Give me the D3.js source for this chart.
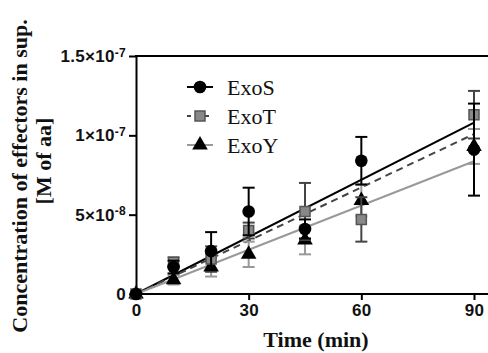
<!DOCTYPE html>
<html>
<head>
<meta charset="utf-8">
<script src="https://cdn.jsdelivr.net/npm/d3@7"></script>
<style>
  body { margin: 0; background: #fff; }
  .tick-label { font-family: 'Liberation Sans', Arial, sans-serif; font-weight: bold; font-size: 17px; letter-spacing: 0.3px; fill: #111; }
  .axis-title { font-family: 'Liberation Serif', 'Times New Roman', serif; font-weight: bold; font-size: 22px; fill: #111; }
  .legend-label { font-family: 'Liberation Serif', 'Times New Roman', serif; font-size: 22px; fill: #111; }
</style>
</head>
<body>
<svg id="chart"></svg>
<script>
// time points (min)
var times = [0, 10, 20, 30, 45, 60, 90];

// mean concentration (M of aa) and SEM for each effector
var exoS = [0, 1.7e-8, 2.7e-8, 5.2e-8, 4.1e-8, 8.4e-8, 9.1e-8];
var exoSErr = [0, 0.4e-8, 1.2e-8, 1.5e-8, 0.6e-8, 1.5e-8, 2.9e-8];
var exoT = [0, 2.0e-8, 2.2e-8, 4.0e-8, 5.2e-8, 4.7e-8, 11.3e-8];
var exoTErr = [0, 0.3e-8, 0.8e-8, 0.5e-8, 1.8e-8, 1.4e-8, 1.5e-8];
var exoY = [0, 0.9e-8, 1.7e-8, 2.5e-8, 3.4e-8, 5.9e-8, 9.3e-8];
var exoYErr = [0, 0.3e-8, 0.6e-8, 0.8e-8, 0.9e-8, 1.0e-8, 1.1e-8];

// fitted slopes (M per min) of the linear regressions, through origin
var seriesNames = ["ExoS", "ExoT", "ExoY"];
var fitSlopes = [1.2e-9, 1.12e-9, 0.93e-9];

// axis ticks
var xTicks = [0, 30, 60, 90];
var yTicks = [0, 5e-8, 1e-7, 1.5e-7];
var yTickLabels = [["0", ""], ["5\u00d710", "-8"], ["1\u00d710", "-7"], ["1.5\u00d710", "-7"]];

/* ---- SVG setup ---- */
var svgWidth = 488, svgHeight = 353;
var margin = { top: 56, left: 136, bottom: 59 };
var plotRight = 474;

var svg = d3.select("#chart").attr("width", svgWidth).attr("height", svgHeight);

var x = d3.scaleLinear().domain([0, 90]).range([margin.left, plotRight]);
var y = d3.scaleLinear().domain([0, 1.5e-7]).range([svgHeight - margin.bottom, margin.top]);

// series styling
var styles = {
  ExoS: { line: "#000", dash: null, bar: "#000", shape: "circle", fill: "#000", stroke: "#000" },
  ExoT: { line: "#444", dash: "7,5", bar: "#444", shape: "square", fill: "#888", stroke: "#555" },
  ExoY: { line: "#999", dash: null, bar: "#999", shape: "triangle", fill: "#000", stroke: "#000" }
};
var seriesData = { ExoS: [exoS, exoSErr], ExoT: [exoT, exoTErr], ExoY: [exoY, exoYErr] };

function symbolPath(shape) {
  if (shape === "circle") return d3.symbol().type(d3.symbolCircle).size(125)();
  if (shape === "square") return d3.symbol().type(d3.symbolSquare).size(100)();
  return d3.symbol().type(d3.symbolTriangle).size(105)();
}

/* ~~~~~~~~~ axes ~~~~~~~~~ */
var xAxis = svg.append("g")
  .attr("transform", "translate(0," + y(0) + ")")
  .call(d3.axisBottom(x).tickValues(xTicks).tickSizeInner(6).tickSizeOuter(0).tickPadding(4).tickFormat(d3.format("d")));
xAxis.select(".domain").attr("stroke-width", 2).attr("d", "M" + margin.left + ",0H" + svgWidth);
xAxis.selectAll(".tick line").attr("stroke-width", 2);
xAxis.selectAll("text").attr("class", "tick-label").attr("font-size", null).attr("font-family", null).attr("fill", null);

var yAxis = svg.append("g")
  .attr("transform", "translate(" + margin.left + ",0)")
  .call(d3.axisLeft(y).tickValues(yTicks).tickSizeInner(7).tickSizeOuter(0).tickPadding(3).tickFormat(""));
yAxis.select(".domain").attr("stroke-width", 2);
yAxis.selectAll(".tick line").attr("stroke-width", 2);
yAxis.selectAll(".tick text").each(function(d, i) {
  var t = d3.select(this).attr("class", "tick-label").attr("font-size", null).attr("font-family", null).attr("fill", null);
  t.text(null);
  var lbl = yTickLabels[i];
  t.append("tspan").text(lbl[0]);
  if (lbl[1]) t.append("tspan").attr("dy", "-0.45em").attr("font-size", "12px").text(lbl[1]);
});

// top frame line
svg.append("line")
  .attr("x1", margin.left - 1).attr("x2", svgWidth)
  .attr("y1", y(1.5e-7)).attr("y2", y(1.5e-7))
  .attr("stroke", "#000").attr("stroke-width", 2);

/* ~~~~~~~~~ regression lines ~~~~~~~~~ */
var fits = svg.append("g").attr("class", "fits");
seriesNames.forEach(function(name, i) {
  var st = styles[name];
  fits.append("line")
    .attr("x1", x(0)).attr("y1", y(0))
    .attr("x2", x(90)).attr("y2", y(fitSlopes[i] * 90))
    .attr("stroke", st.line).attr("stroke-width", 2)
    .attr("stroke-dasharray", st.dash);
});

/* ~~~~~~~~~ error bars and markers, back to front ~~~~~~~~~ */
["ExoY", "ExoT", "ExoS"].forEach(function(name) {
  var st = styles[name];
  var vals = seriesData[name][0], errs = seriesData[name][1];
  var g = svg.append("g").attr("class", "series-" + name);
  var pts = times.map(function(t, i) { return { t: t, v: vals[i], e: errs[i] }; });

  var bars = g.selectAll("g.bar").data(pts.filter(function(d) { return d.e > 0; })).enter().append("g");
  bars.append("line")
    .attr("x1", function(d) { return x(d.t); }).attr("x2", function(d) { return x(d.t); })
    .attr("y1", function(d) { return y(d.v - d.e); }).attr("y2", function(d) { return y(d.v + d.e); })
    .attr("stroke", st.bar).attr("stroke-width", 2);
  [-1, 1].forEach(function(s) {
    bars.append("line")
      .attr("x1", function(d) { return x(d.t) - 6; }).attr("x2", function(d) { return x(d.t) + 6; })
      .attr("y1", function(d) { return y(d.v + s * d.e); }).attr("y2", function(d) { return y(d.v + s * d.e); })
      .attr("stroke", st.bar).attr("stroke-width", 2);
  });

  g.selectAll("path.marker").data(pts).enter().append("path")
    .attr("class", "marker")
    .attr("d", symbolPath(st.shape))
    .attr("transform", function(d) { return "translate(" + x(d.t) + "," + y(d.v) + ")"; })
    .attr("fill", st.fill).attr("stroke", st.stroke).attr("stroke-width", st.shape === "square" ? 1.5 : 0);
});

/* ~~~~~~~~~ legend ~~~~~~~~~ */
var legend = svg.append("g").attr("class", "legend");
var legendRows = [87, 116, 145];
seriesNames.forEach(function(name, i) {
  var st = styles[name];
  var row = legend.append("g").attr("transform", "translate(0," + legendRows[i] + ")");
  row.append("line")
    .attr("x1", 187).attr("x2", 213).attr("y1", 0).attr("y2", 0)
    .attr("stroke", st.line).attr("stroke-width", 2)
    .attr("stroke-dasharray", st.dash ? "5,4" : null)
    .attr("stroke-dashoffset", st.dash ? 1 : null);
  row.append("path")
    .attr("d", symbolPath(st.shape))
    .attr("transform", "translate(200,0)")
    .attr("fill", st.fill).attr("stroke", st.stroke).attr("stroke-width", st.shape === "square" ? 1.5 : 0);
  row.append("text")
    .attr("class", "legend-label")
    .attr("x", 227).attr("y", 8)
    .text(name);
});

/* ~~~~~~~~~ axis titles ~~~~~~~~~ */
svg.append("text")
  .attr("class", "axis-title")
  .attr("x", 316).attr("y", 347)
  .attr("text-anchor", "middle")
  .text("Time (min)");

svg.append("text")
  .attr("class", "axis-title")
  .attr("transform", "translate(27,176) rotate(-90)")
  .attr("text-anchor", "middle")
  .text("Concentration of effectors in sup.");
svg.append("text")
  .attr("class", "axis-title")
  .attr("transform", "translate(51,161) rotate(-90)")
  .attr("text-anchor", "middle")
  .text("[M of aa]");
</script>
</body>
</html>
